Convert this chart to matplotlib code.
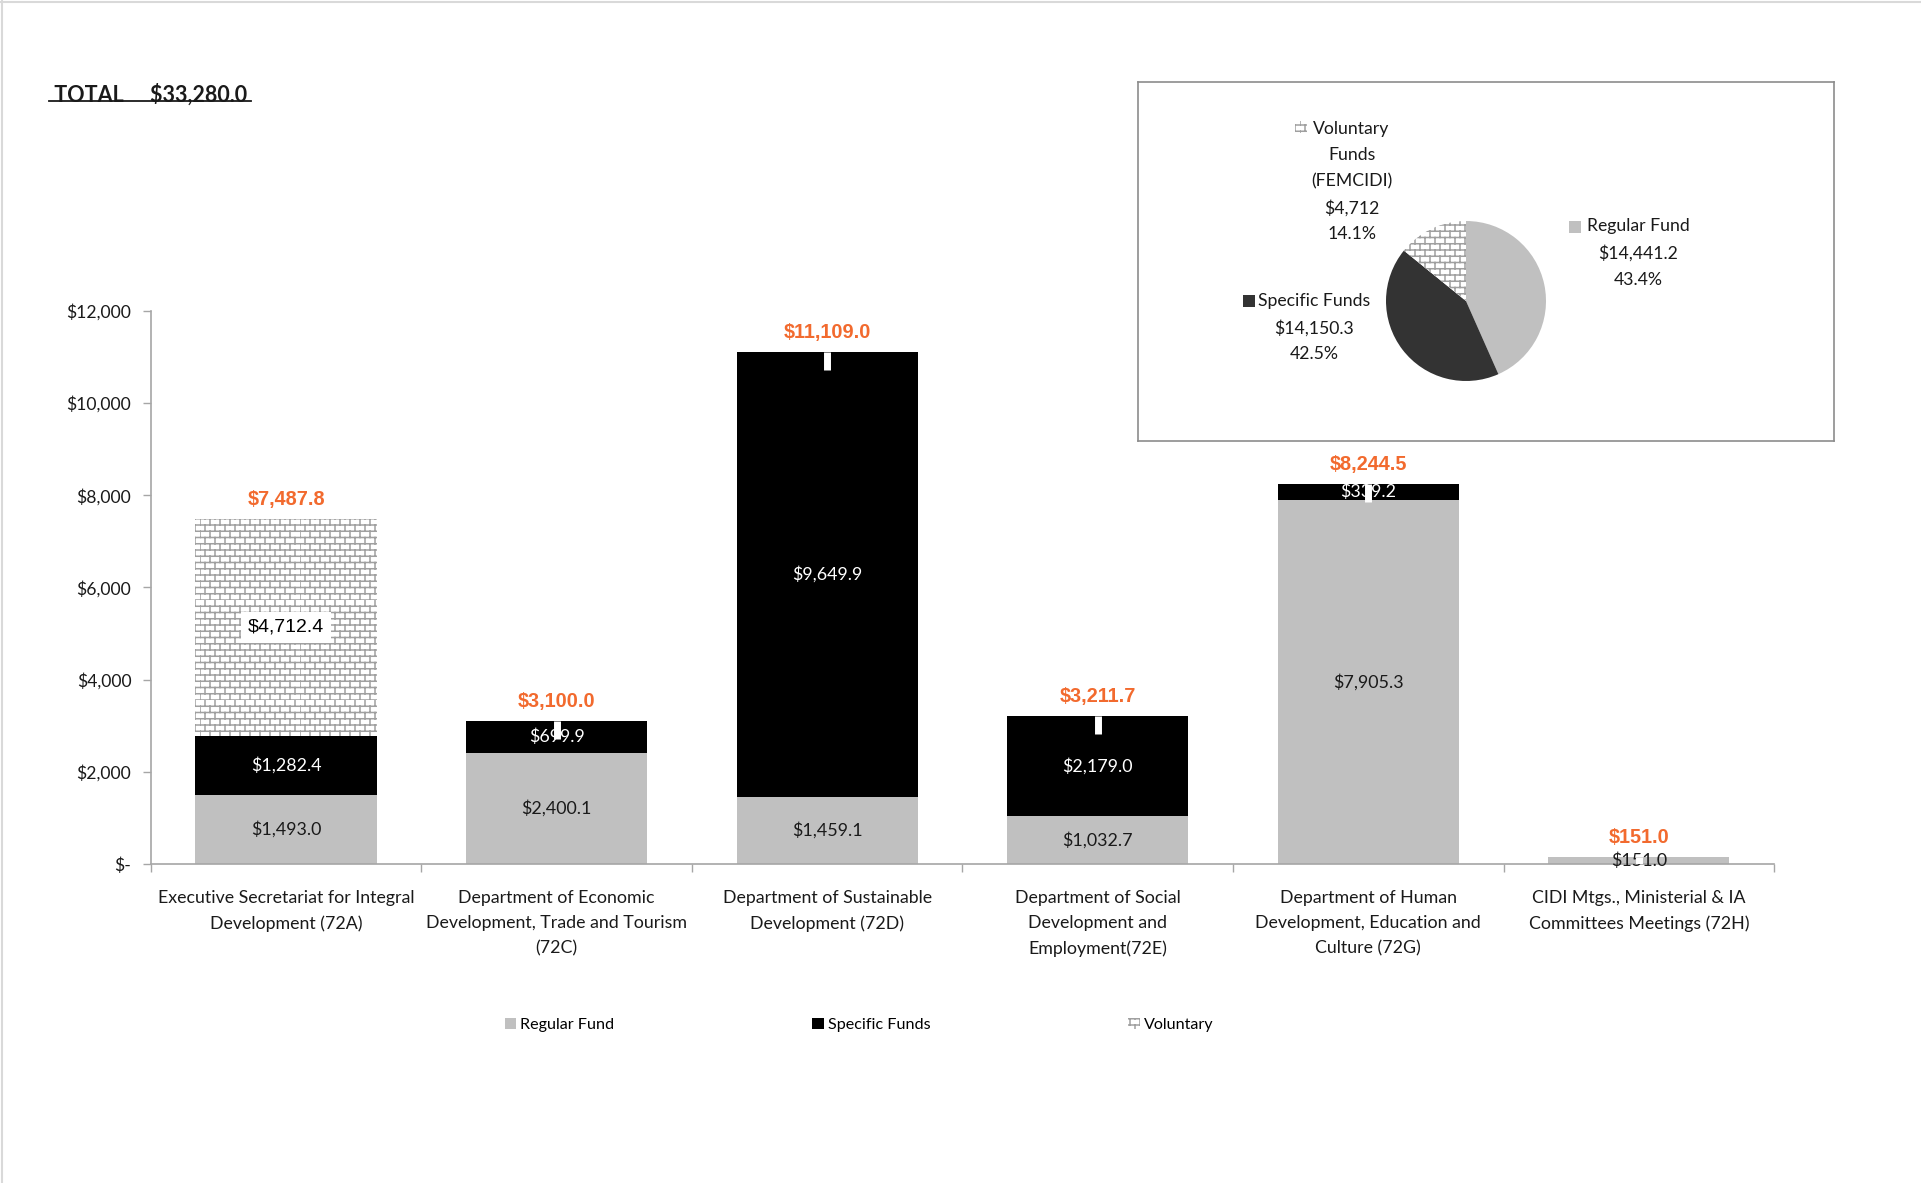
import warnings
import numpy as np
import matplotlib
matplotlib.use("Agg")
import matplotlib.pyplot as plt
import matplotlib.hatch as mhatch
from matplotlib.path import Path
from matplotlib.patches import Rectangle
from matplotlib.lines import Line2D

warnings.filterwarnings("ignore")

# ---------------- data ----------------
categories = [
    "Executive Secretariat for Integral\nDevelopment (72A)",
    "Department of Economic\nDevelopment, Trade and Tourism\n(72C)",
    "Department of Sustainable\nDevelopment (72D)",
    "Department of Social\nDevelopment and\nEmployment(72E)",
    "Department of Human\nDevelopment, Education and\nCulture (72G)",
    "CIDI Mtgs., Ministerial & IA\nCommittees Meetings (72H)",
]
regular_fund = [1493.0, 2400.1, 1459.1, 1032.7, 7905.3, 151.0]
specific_funds = [1282.4, 699.9, 9649.9, 2179.0, 339.2, 0.0]
voluntary = [4712.4, 0.0, 0.0, 0.0, 0.0, 0.0]
totals = [7487.8, 3100.0, 11109.0, 3211.7, 8244.5, 151.0]
y_ticks = [0, 2000, 4000, 6000, 8000, 10000, 12000]

pie_names = ["Regular Fund", "Specific Funds", "Voluntary\nFunds\n(FEMCIDI)"]
pie_values = [14441.2, 14150.3, 4712.0]
pie_value_text = ["$14,441.2", "$14,150.3", "$4,712"]
pie_pct = [43.4, 42.5, 14.1]
grand_total = 33280.0

# ---------------- brick hatch ----------------
class BrickHatch(mhatch.HatchPatternBase):
    rows = 16
    cols = 10

    def __init__(self, hatch, density):
        n = hatch.count("Z")
        self.active = n > 0
        if self.active:
            self.num_vertices = 2 * self.rows + 2 * self.rows * self.cols
        else:
            self.num_vertices = 0

    def set_vertices_and_codes(self, vertices, codes):
        verts = []
        for i in range(self.rows):
            y = i / self.rows
            verts.append((0.0, y))
            verts.append((1.0, y))
        for i in range(self.rows):
            y0 = i / self.rows
            y1 = (i + 1) / self.rows
            off = 0.5 * (i % 2)
            for j in range(self.cols):
                x = (j + off) / self.cols
                verts.append((x, y0))
                verts.append((x, y1))
        vertices[:] = np.array(verts)
        codes[0::2] = Path.MOVETO
        codes[1::2] = Path.LINETO


mhatch._hatch_types.append(BrickHatch)
plt.rcParams["hatch.linewidth"] = 1.1

# ---------------- styling ----------------
REG = "#C0C0C0"
SPEC = "#000000"
ORANGE = "#F26A2E"
BRICK = "#A0A0A0"
AX_GRAY = "#A6A6A6"
TXT = "#1A1A1A"
BODY = "Lato"
ARIAL = "Liberation Sans"

fig = plt.figure(figsize=(19.21, 11.83), dpi=100)
fig.patch.set_facecolor("white")

# faint page border
fig.add_artist(Line2D([0, 1], [0.9985, 0.9985], transform=fig.transFigure, color="#D9D9D9", lw=1.5))
fig.add_artist(Line2D([0.0012, 0.0012], [0, 1], transform=fig.transFigure, color="#D9D9D9", lw=1.5))

ax = fig.add_axes([0.0785, 0.2697, 0.845, 0.4674])
x = np.arange(len(categories))
w = 0.67

reg = np.array(regular_fund)
spec = np.array(specific_funds)
vol = np.array(voluntary)
tot = np.array(totals)

ax.bar(x, reg, w, color=REG, linewidth=0, zorder=2)
ax.bar(x, spec, w, bottom=reg, color=SPEC, linewidth=0, zorder=2)
ax.bar(x, vol, w, bottom=reg + spec, facecolor="white", edgecolor=BRICK,
       hatch="Z", linewidth=0, zorder=2)

# segment labels
for i in range(len(x)):
    ax.text(x[i], reg[i] / 2, f"${reg[i]:,.1f}", ha="center", va="center",
            fontsize=12.9, family=BODY, color=TXT, zorder=3)
    if spec[i] > 0:
        ax.text(x[i], reg[i] + spec[i] / 2, f"${spec[i]:,.1f}", ha="center", va="center",
                fontsize=12.9, family=BODY, color="white", zorder=3)
    if vol[i] > 0:
        ax.text(x[i], reg[i] + spec[i] + vol[i] / 2, f"${vol[i]:,.1f}", ha="center", va="center",
                fontsize=14, family=ARIAL, color="black", zorder=3,
                bbox=dict(facecolor="white", edgecolor="none", pad=5))
    ax.annotate(f"${tot[i]:,.1f}", (x[i], tot[i]), xytext=(0, 14.3), textcoords="offset points",
                ha="center", va="center", fontsize=14.3, fontweight="bold", family=ARIAL,
                color=ORANGE, zorder=3)

# white connector stubs at the top of the stacks
stub = np.array([t for t, v in zip(tot, vol) if v == 0])
xs = np.array([xi for xi, v in zip(x, vol) if v == 0])
ax.vlines(xs, stub - 390, stub, color="white", lw=5, zorder=4)

ax.set_xlim(-0.5, len(categories) - 0.5)
ax.set_ylim(0, 12000)
ax.set_yticks(y_ticks)
ax.set_yticklabels(["$-"] + [f"${v:,.0f}" for v in y_ticks[1:]], family=BODY, fontsize=12.6, color=TXT)
ax.set_xticks(np.arange(len(categories) + 1) - 0.5)
ax.set_xticklabels([])
ax.tick_params(axis="both", color=AX_GRAY, length=6, width=1, direction="out")
ax.tick_params(axis="y", pad=8)
for s in ["top", "right"]:
    ax.spines[s].set_visible(False)
for s in ["left", "bottom"]:
    ax.spines[s].set_color(AX_GRAY)
    ax.spines[s].set_linewidth(1.2)

for i, lab in enumerate(categories):
    ax.annotate(lab, (x[i], 0), xytext=(0, -18.5), textcoords="offset points",
                ha="center", va="top", fontsize=12.8, family=BODY, color=TXT,
                linespacing=1.7, annotation_clip=False)

# bottom legend
handles = [
    Rectangle((0, 0), 1, 1, facecolor=REG, linewidth=0),
    Rectangle((0, 0), 1, 1, facecolor=SPEC, linewidth=0),
    Rectangle((0, 0), 1, 1, facecolor="white", edgecolor=BRICK, hatch="Z", linewidth=0),
]
fig.legend(handles, ["Regular Fund", "Specific Funds", "Voluntary"], ncol=3,
           loc="center", bbox_to_anchor=(0.4472, 0.1338), frameon=False,
           prop={"family": BODY, "size": 11.6}, handlelength=0.7, handleheight=0.7,
           handletextpad=0.25, columnspacing=12.3)

# title
fig.text(0.0255, 0.9203, " TOTAL     $" + f"{grand_total:,.1f}", fontsize=15.5, fontweight="bold",
         family=BODY, color=TXT, ha="left", va="center")
fig.add_artist(Line2D([0.0255, 0.1305], [0.9145, 0.9145], transform=fig.transFigure,
                      color=TXT, lw=1.3))

# ---------------- pie inset ----------------
# box: 1138..1834 px wide, 82..441 px tall; pie centre (1466, 301), radius 80 px
L, R, T, B = 1138, 1834, 82, 441
cx, cy, rad = 1466, 301, 80
W, H = 1921, 1183
pax = fig.add_axes([L / W, 1 - B / H, (R - L) / W, (B - T) / H])
pax.set_xticks([])
pax.set_yticks([])
for s in pax.spines.values():
    s.set_color("#8C8C8C")
    s.set_linewidth(1.2)

wedges, _ = pax.pie(pie_values, colors=[REG, "#333333", "white"], startangle=90,
                    counterclock=False, radius=1, center=(0, 0), frame=True,
                    wedgeprops=dict(linewidth=0))
wedges[2].set_edgecolor(BRICK)
wedges[2].set_hatch("Z")
pax.set_xlim((L - cx) / rad, (R - cx) / rad)
pax.set_ylim((cy - B) / rad, (cy - T) / rad)
pax.set_aspect("auto")

label_pos = [(2.15, 0.60), (-1.90, -0.33), (-1.43, 1.49)]
marker_pos = [(1.36, 0.92), (-2.71, -0.005), (-2.06, 2.17)]
pie_colors = [REG, "#333333", None]
for i in range(3):
    lines = pie_names[i].split("\n") + [pie_value_text[i], f"{pie_pct[i]:.1f}%"]
    pax.text(label_pos[i][0], label_pos[i][1], "\n".join(lines), ha="center", va="center",
             multialignment="center", fontsize=12.7, family=BODY, color=TXT, linespacing=1.76)
    mx, my = marker_pos[i]
    sz = 0.15
    if pie_colors[i] is not None:
        pax.add_patch(Rectangle((mx - sz / 2, my - sz / 2), sz, sz, facecolor=pie_colors[i], linewidth=0))
    else:
        pax.add_patch(Rectangle((mx - sz / 2, my - sz / 2), sz, sz, facecolor="white",
                                edgecolor=BRICK, hatch="Z", linewidth=0))

fig.savefig("out.png", dpi=100, facecolor="white")
